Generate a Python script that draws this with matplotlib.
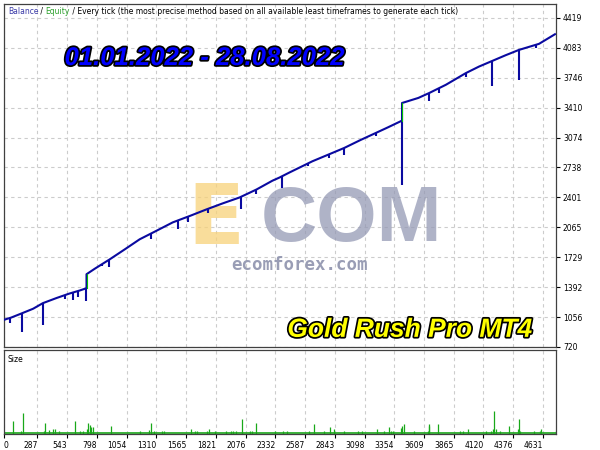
import matplotlib.pyplot as plt
import matplotlib.patheffects as pe
import numpy as np

# balance curve (trade number, balance), two points at one trade = jump
balance_trade = [0, 60, 137, 250, 334, 450, 560, 650, 709, 709, 780, 909, 1038,
                 1166, 1300, 1450, 1600, 1740, 1880, 2024, 2170, 2307, 2367, 2453,
                 2650, 2800, 2924, 3060, 3196, 3300, 3420, 3420, 3560, 3653, 3797,
                 3968, 4082, 4197, 4310, 4425, 4597, 4734]
balance_value = [1026, 1050, 1090, 1150, 1213, 1270, 1320, 1355, 1381, 1538, 1600,
                 1706, 1818, 1931, 2020, 2121, 2195, 2267, 2335, 2401, 2491, 2590,
                 2625, 2682, 2808, 2890, 2958, 3045, 3127, 3190, 3265, 3463, 3520,
                 3575, 3668, 3799, 3873, 3937, 4000, 4060, 4128, 4236]

# equity drawdowns (trade number, lowest equity)
dd_trade = [52, 152, 337, 523, 592, 640, 705, 838, 905, 1267, 1495, 1578, 1750,
            2039, 2167, 2390, 2610, 2796, 2924, 3196, 3418, 3653, 3739, 3968,
            4197, 4425, 4568]
dd_low = [995, 891, 967, 1262, 1250, 1280, 1239, 1631, 1617, 1935, 2043, 2120,
          2230, 2275, 2435, 2510, 2752, 2850, 2883, 3089, 2536, 3481, 3575, 3760,
          3649, 3716, 4080]

# lot size per trade
size_trade = [74, 150, 160, 345, 352, 390, 420, 440, 470, 609, 650, 680, 712, 722,
              735, 750, 763, 918, 1166, 1245, 1267, 1285, 1355, 1375, 1610, 1640,
              1655, 1740, 1760, 1810, 1910, 1950, 1970, 1990, 2047, 2115, 2135,
              2161, 2330, 2395, 2430, 2624, 2661, 2753, 2804, 2839, 2925, 3045,
              3079, 3205, 3268, 3305, 3325, 3339, 3411, 3419, 3433, 3525, 3639,
              3648, 3653, 3731, 3917, 3945, 3991, 4140, 4183, 4203, 4208, 4225,
              4260, 4340, 4420, 4425, 4434, 4554, 4603, 4617, 4740]
size_lots = [0.127, 0.027, 0.207, 0.03, 0.11, 0.04, 0.05, 0.05, 0.03, 0.127, 0.03,
             0.03, 0.05, 0.107, 0.093, 0.067, 0.073, 0.083, 0.033, 0.04, 0.107,
             0.027, 0.03, 0.03, 0.053, 0.03, 0.03, 0.03, 0.053, 0.03, 0.03, 0.03,
             0.03, 0.03, 0.153, 0.03, 0.03, 0.107, 0.03, 0.03, 0.03, 0.03, 0.10,
             0.03, 0.07, 0.05, 0.03, 0.03, 0.03, 0.05, 0.03, 0.07, 0.03, 0.03,
             0.063, 0.077, 0.10, 0.03, 0.03, 0.10, 0.077, 0.10, 0.03, 0.03, 0.05,
             0.03, 0.03, 0.05, 0.233, 0.05, 0.03, 0.077, 0.05, 0.15, 0.03, 0.03,
             0.03, 0.05, 0.03]
min_lot = 0.01

x_ticks = [0, 287, 543, 798, 1054, 1310, 1565, 1821, 2076, 2332, 2587, 2843,
           3098, 3354, 3609, 3865, 4120, 4376, 4631]
y_ticks = [720, 1056, 1392, 1729, 2065, 2401, 2738, 3074, 3410, 3746, 4083, 4419]

blue = '#0a0aa0'
green = '#19a819'
grid_kw = dict(color='#cccccc', linestyle=(0, (3, 3)), linewidth=0.8)

fig = plt.figure(figsize=(6, 4.5), dpi=100)
ax = fig.add_axes([4/600, 1-347/450, 552/600, 343/450])
ax2 = fig.add_axes([4/600, 1-434/450, 552/600, 84/450])

# main chart
ax.set_xlim(0, 4743)
ax.set_ylim(720, 4576)
ax.set_xticks(x_ticks)
ax.set_yticks(y_ticks)
ax.yaxis.tick_right()
ax.tick_params(axis='y', length=3, width=0.8, labelsize=5.5, pad=2)
ax.tick_params(axis='x', length=0, labelbottom=False)
ax.grid(True, **grid_kw)
ax.set_axisbelow(True)

tr = np.array(balance_trade)
bv = np.array(balance_value)
ax.plot(tr, bv, color=blue, lw=1.5, zorder=3)
tops = np.interp(dd_trade, tr, bv)
ax.vlines(dd_trade, dd_low, tops, color=blue, lw=1.5, zorder=3)
for i in np.where(np.diff(tr) == 0)[0]:
    ax.plot([tr[i], tr[i]], [bv[i], bv[i+1]], color='#00c000', lw=0.8, zorder=4)

# header
t = ax.text(0.007, 0.992, 'Balance', transform=ax.transAxes, va='top',
            fontsize=5.5, color='#3a3aa8')
for s, c in [(' / ', 'black'), ('Equity', '#2ca02c'),
             (' / Every tick (the most precise method based on all available '
              'least timeframes to generate each tick)', 'black')]:
    t = ax.annotate(s, xy=(1, 0), xycoords=t, va='bottom', ha='left',
                    fontsize=5.5, color=c)

# watermark
ax.text(0.36, 0.51, 'E', transform=fig.transFigure, ha='center', va='center',
        fontsize=60, fontweight='bold', color='#f7d27a', alpha=0.75, zorder=1.5)
ax.text(0.585, 0.51, 'COM', transform=fig.transFigure, ha='center', va='center',
        fontsize=56, fontweight='bold', color='#959ab5', alpha=0.75, zorder=1.5,
        family='Liberation Sans')
ax.text(0.5, 0.411, 'ecomforex.com', transform=fig.transFigure, ha='center',
        va='center', fontsize=12.5, fontweight='bold', color='#8e93ad',
        family='DejaVu Sans Mono', alpha=0.9, zorder=1.5)

stroke = [pe.withStroke(linewidth=2.5, foreground='black')]
ax.text(0.342, 0.871, '01.01.2022 - 28.08.2022', transform=fig.transFigure,
        ha='center', va='center', fontsize=18.5, fontweight='bold',
        style='italic', color='#0000ff', family='Liberation Sans',
        path_effects=stroke, zorder=10)
ax.text(0.683, 0.267, 'Gold Rush Pro MT4', transform=fig.transFigure,
        ha='center', va='center', fontsize=19, fontweight='bold',
        style='italic', color='#ffff00', family='Liberation Sans',
        path_effects=stroke, zorder=10)

# size panel
ax2.set_xlim(0, 4743)
ax2.set_ylim(0, 0.84)
ax2.vlines(size_trade, 0, size_lots, color=green, lw=0.9)
ax2.axhline(min_lot, color=green, lw=1.2)
ax2.set_yticks([])
ax2.set_xticks(x_ticks)
ax2.tick_params(axis='x', length=3, width=0.8, labelsize=5.5, pad=2)
ax2.grid(True, axis='x', **grid_kw)
ax2.set_axisbelow(True)
labs = ax2.get_xticklabels()
for i, lab in enumerate(labs):
    lab.set_ha('left' if i == 0 else 'right')
ax2.text(0.006, 0.94, 'Size', transform=ax2.transAxes, va='top', fontsize=5.5)

for a in (ax, ax2):
    for sp in a.spines.values():
        sp.set_color('#404040')
        sp.set_linewidth(0.9)

fig.savefig('out.png', dpi=100)
